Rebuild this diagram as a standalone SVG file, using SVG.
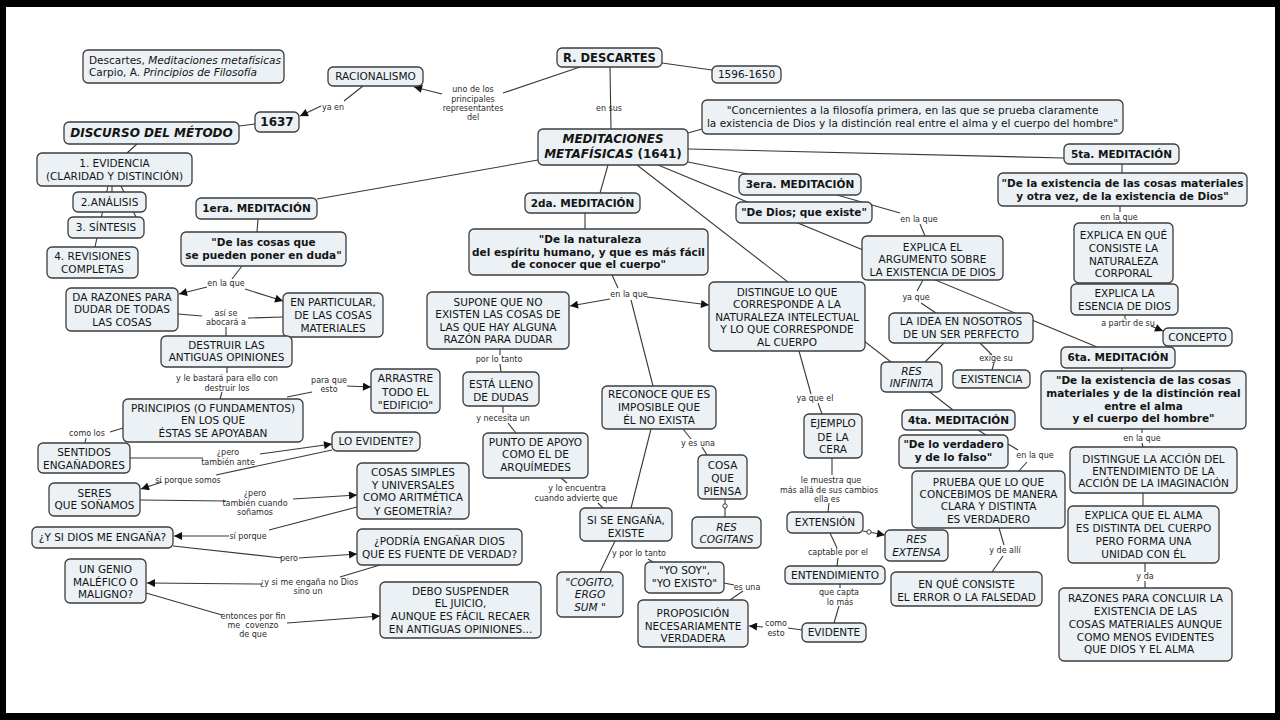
<svg xmlns="http://www.w3.org/2000/svg" width="1280" height="720" viewBox="0 0 1280 720">
<defs>
<marker id="ah" viewBox="0 0 10 10" refX="10" refY="5" markerWidth="9" markerHeight="8" markerUnits="userSpaceOnUse" orient="auto"><path d="M0,0 L10,5 L0,10 z" fill="#111"/></marker>
</defs>
<style>
.n rect{fill:#ebf1f4;stroke:#3c3c3c;stroke-width:1.3}
text{font-family:"DejaVu Sans",Verdana,sans-serif;fill:#141414}
.t{font-size:10.5px;text-anchor:middle}
.s{font-size:10.5px;text-anchor:start}
.b{font-weight:bold}
.i{font-style:italic}
.l{font-size:8px;fill:#2a2a2a;text-anchor:middle}
.c path{stroke:#383838;stroke-width:1.1;fill:none}
.c path.a{marker-end:url(#ah)}
.c circle{fill:#fff;stroke:#383838;stroke-width:1}
</style>
<rect width="1280" height="720" fill="#000"/>
<rect x="6" y="7" width="1269" height="706" fill="#fff"/>

<g id="connectors" class="c">
<path d="M580,67 L503,93"/>
<path class="a" d="M442,94 L414,87"/>
<path d="M363,86 L344,101"/>
<path class="a" d="M321,106 L300,116"/>
<path d="M255,124 L239,126"/>
<path d="M137,144 L127,153"/>
<path d="M108,186 L95,247"/>
<path d="M121,186 L136,217"/>
<path d="M112,186 L112,192"/>
<path d="M610,67 L611,129"/>
<path d="M662,63 L712,70"/>
<path d="M688,133 L702,129"/>
<path d="M688,149 L1064,158"/>
<path d="M538,160 L317,199"/>
<path d="M608,165 L600,193"/>
<path d="M688,162 L748,174"/>
<path d="M658,165 L1097,347"/>
<path d="M637,165 L953,410"/>
<path d="M585,213 L585,229"/>
<path d="M258,219 L257,232"/>
<path d="M242,266 L232,279"/>
<path class="a" d="M207,287 L179,294"/>
<path class="a" d="M245,289 L283,301"/>
<path d="M178,314 L202,316"/>
<path d="M248,318 L283,317"/>
<path d="M226,327 L226,336"/>
<path d="M227,367 L227,373"/>
<path d="M222,392 L220,399"/>
<path d="M287,397 L312,392"/>
<path class="a" d="M347,386 L371,387"/>
<path d="M123,428 L110,432"/>
<path d="M86,438 L85,443"/>
<path d="M130,458 L203,458"/>
<path class="a" d="M260,454 L332,444"/>
<path d="M332,450 L216,475"/>
<path class="a" d="M162,482 L141,489"/>
<path d="M140,500 L226,501"/>
<path class="a" d="M293,499 L357,495"/>
<path d="M357,507 L269,530"/>
<path class="a" d="M229,536 L174,536"/>
<path d="M173,546 L282,558"/>
<path class="a" d="M299,558 L357,554"/>
<path d="M380,565 L340,577"/>
<path class="a" d="M262,584 L147,583"/>
<path d="M146,593 L222,615"/>
<path class="a" d="M287,623 L380,616"/>
<path d="M612,275 L618,288"/>
<path class="a" d="M610,299 L570,306"/>
<path class="a" d="M647,297 L709,305"/>
<path d="M631,300 L653,386"/>
<path d="M500,349 L500,355"/>
<path d="M500,364 L501,372"/>
<path d="M503,406 L503,413"/>
<path d="M508,423 L516,433"/>
<path d="M561,478 L567,483"/>
<path d="M598,503 L603,508"/>
<path d="M651,429 L631,508"/>
<path d="M683,429 L691,439"/>
<path d="M702,447 L707,455"/>
<path d="M725,499 L725,517"/>
<path d="M615,541 L600,572"/>
<path d="M648,559 L653,562"/>
<path d="M724,583 L734,585"/>
<path d="M743,591 L730,600"/>
<path d="M802,630 L788,628"/>
<path class="a" d="M763,627 L749,626"/>
<path d="M799,351 L811,394"/>
<path d="M818,403 L822,414"/>
<path d="M832,458 L832,475"/>
<path d="M829,503 L828,512"/>
<path d="M830,533 L837,548"/>
<path d="M838,558 L837,566"/>
<path d="M840,584 L840,588"/>
<path d="M839,606 L834,623"/>
<path class="a" d="M863,531 L885,535"/>
<path d="M837,195 L900,213"/>
<path d="M920,224 L925,236"/>
<path d="M923,280 L917,291"/>
<path d="M921,303 L936,313"/>
<path d="M944,343 L925,362"/>
<path d="M980,343 L992,355"/>
<path d="M994,363 L992,370"/>
<path d="M978,430 L986,435"/>
<path d="M1008,444 L1018,450"/>
<path d="M1027,462 L1018,472"/>
<path d="M999,528 L1004,545"/>
<path d="M1003,556 L992,572"/>
<path d="M1122,164 L1122,173"/>
<path d="M1120,206 L1120,212"/>
<path d="M1120,221 L1120,223"/>
<path d="M1125,315 L1125,319"/>
<path class="a" d="M1151,326 L1163,331"/>
<path d="M1122,368 L1122,371"/>
<path d="M1142,429 L1142,433"/>
<path d="M1142,443 L1143,447"/>
<path d="M1143,493 L1143,506"/>
<path d="M1145,563 L1145,572"/>
<path d="M1145,581 L1145,588"/>
<circle cx="725" cy="506" r="2.2"/>
<circle cx="869" cy="532" r="2.2"/>
</g>

<g id="link-labels">
<text class="l"><tspan x="473" y="92.3">uno de los</tspan><tspan x="473" y="101.7">principales</tspan><tspan x="473" y="111">representantes</tspan><tspan x="473" y="120.3">del</tspan></text>
<text class="l" x="333" y="109.7">ya en</text>
<text class="l" x="609" y="111">en sus</text>
<text class="l" x="226" y="286.3">en la que</text>
<text class="l"><tspan x="226" y="315.7">así se</tspan><tspan x="226" y="325.3">abocará a</tspan></text>
<text class="l"><tspan x="227" y="381.3">y le bastará para ello con</tspan><tspan x="227" y="390.7">destruir los</tspan></text>
<text class="l"><tspan x="329" y="383">para que</tspan><tspan x="329" y="392">esto</tspan></text>
<text class="l" x="87" y="436.3">como los</text>
<text class="l"><tspan x="228" y="455.3">¿pero</tspan><tspan x="228" y="464.7">también ante</tspan></text>
<text class="l" x="188" y="483">sí porque somos</text>
<text class="l"><tspan x="255" y="496.3">¿pero</tspan><tspan x="255" y="505.7">también cuando</tspan><tspan x="255" y="515.3">soñamos</tspan></text>
<text class="l" x="248" y="539">sí porque</text>
<text class="l" x="289" y="561.3">pero</text>
<text class="l"><tspan x="309" y="584.7">¿y si me engaña no Dios</tspan><tspan x="308" y="594">sino un</tspan></text>
<text class="l" style="white-space:pre"><tspan x="253" y="618.7">entonces por fin</tspan><tspan x="253" y="628">me  covenzo</tspan><tspan x="253" y="637.3">de que</tspan></text>
<text class="l" x="629" y="297">en la que</text>
<text class="l" x="499" y="362.3">por lo tanto</text>
<text class="l" x="503" y="421.3">y necesita un</text>
<text class="l"><tspan x="577" y="491.3">y lo encuentra</tspan><tspan x="576" y="501.3">cuando advierte que</tspan></text>
<text class="l" x="698" y="445.7">y es una</text>
<text class="l" x="639" y="556.3">y por lo tanto</text>
<text class="l" x="747" y="589.7">es una</text>
<text class="l"><tspan x="776" y="625.7">como</tspan><tspan x="776" y="636.3">esto</tspan></text>
<text class="l" x="815" y="401.3">ya que el</text>
<text class="l"><tspan x="831" y="483">le muestra que</tspan><tspan x="829" y="493">más allá de sus cambios</tspan><tspan x="827" y="502">ella es</tspan></text>
<text class="l" x="838" y="554.7">captable por el</text>
<text class="l"><tspan x="839" y="595.3">que capta</tspan><tspan x="840" y="604.7">lo más</tspan></text>
<text class="l" x="919" y="222.3">en la que</text>
<text class="l" x="916" y="300.3">ya que</text>
<text class="l" x="996" y="361.3">exige su</text>
<text class="l" x="1035" y="458">en la que</text>
<text class="l" x="1005" y="553">y de allí</text>
<text class="l" x="1119" y="220.3">en la que</text>
<text class="l" x="1128" y="326.3">a partir de su</text>
<text class="l" x="1142" y="440.7">en la que</text>
<text class="l" x="1145" y="579">y da</text>
</g>

<g id="n-ref" class="n"><rect x="83" y="50" width="201" height="33" rx="5"/><text class="s" x="89" y="63.5">Descartes, <tspan class="i">Meditaciones metafísicas</tspan></text><text class="s" x="89" y="75.5">Carpio, A. <tspan class="i">Principios de Filosofía</tspan></text></g>
<g id="n-racionalismo" class="n"><rect x="328" y="67" width="95" height="19" rx="5"/><text class="t" x="375.5" y="80.3">RACIONALISMO</text></g>
<g id="n-descartes" class="n"><rect x="557" y="48" width="105" height="19" rx="5"/><text class="t b" style="font-size:11.5px" x="609.5" y="61.8">R. DESCARTES</text></g>
<g id="n-fechas" class="n"><rect x="712" y="66" width="69" height="17" rx="5"/><text class="t" x="746.5" y="78.3">1596-1650</text></g>
<g id="n-1637" class="n"><rect x="255" y="112" width="44" height="20" rx="5"/><text class="t b" style="font-size:12px" x="277" y="126.3">1637</text></g>
<g id="n-discurso" class="n"><rect x="64" y="122" width="175" height="22" rx="5"/><text class="t b i" style="font-size:12px" x="151.5" y="137.3">DISCURSO DEL MÉTODO</text></g>
<g id="n-evidencia" class="n"><rect x="37" y="153" width="155" height="33" rx="5"/><text class="t"><tspan x="114.5" y="166.9">1. EVIDENCIA</tspan><tspan x="114.5" y="179.7">(CLARIDAD Y DISTINCIÓN)</tspan></text></g>
<g id="n-analisis" class="n"><rect x="73" y="192" width="73" height="20" rx="5"/><text class="t" x="109.5" y="205.8">2.ANÁLISIS</text></g>
<g id="n-sintesis" class="n"><rect x="68" y="217" width="76" height="21" rx="5"/><text class="t" x="106" y="231.3">3. SÍNTESIS</text></g>
<g id="n-revisiones" class="n"><rect x="47" y="247" width="91" height="31" rx="5"/><text class="t"><tspan x="92.5" y="259.9">4. REVISIONES</tspan><tspan x="92.5" y="272.7">COMPLETAS</tspan></text></g>
<g id="n-med1" class="n"><rect x="196" y="198" width="121" height="21" rx="5"/><text class="t b" x="256.5" y="212.3">1era. MEDITACIÓN</text></g>
<g id="n-med1-titulo" class="n"><rect x="181" y="232" width="165" height="34" rx="5"/><text class="t b"><tspan x="263.5" y="246.4">"De las cosas que</tspan><tspan x="263.5" y="259.2">se pueden poner en duda"</tspan></text></g>
<g id="n-meditaciones" class="n"><rect x="538" y="129" width="150" height="36" rx="5"/><text class="t b i" style="font-size:12px" x="613" y="142.5">MEDITACIONES</text><text class="t b" style="font-size:12px" x="613" y="157.5"><tspan class="i">METAFÍSICAS</tspan> (1641)</text></g>
<g id="n-concernientes" class="n"><rect x="702" y="100" width="421" height="34" rx="5"/><text class="t"><tspan x="912.5" y="113.7">"Concernientes a la filosofía primera, en las que se prueba claramente</tspan><tspan x="912.5" y="127">la existencia de Dios y la distinción real entre el alma y el cuerpo del hombre"</tspan></text></g>
<g id="n-med5" class="n"><rect x="1064" y="144" width="115" height="20" rx="5"/><text class="t b" x="1121.5" y="157.8">5ta. MEDITACIÓN</text></g>
<g id="n-med5-titulo" class="n"><rect x="998" y="173" width="249" height="33" rx="5"/><text class="t b"><tspan x="1122.5" y="186.9">"De la existencia de las cosas materiales</tspan><tspan x="1122.5" y="199.7">y otra vez, de la existencia de Dios"</tspan></text></g>
<g id="n-naturaleza-corporal" class="n"><rect x="1074" y="223" width="99" height="60" rx="5"/><text class="t"><tspan x="1123.5" y="239.3">EXPLICA EN QUÉ</tspan><tspan x="1123.5" y="252">CONSISTE LA</tspan><tspan x="1123.5" y="264.7">NATURALEZA</tspan><tspan x="1123.5" y="277.4">CORPORAL</tspan></text></g>
<g id="n-esencia" class="n"><rect x="1071" y="284" width="107" height="31" rx="5"/><text class="t"><tspan x="1124.5" y="297.1">EXPLICA LA</tspan><tspan x="1124.5" y="309.5">ESENCIA DE DIOS</tspan></text></g>
<g id="n-concepto" class="n"><rect x="1163" y="328" width="69" height="18" rx="5"/><text class="t" x="1197.5" y="340.8">CONCEPTO</text></g>
<g id="n-med6" class="n"><rect x="1061" y="347" width="114" height="21" rx="5"/><text class="t b" x="1118" y="361.3">6ta. MEDITACIÓN</text></g>
<g id="n-med6-titulo" class="n"><rect x="1041" y="371" width="205" height="58" rx="5"/><text class="t b"><tspan x="1143.5" y="383.8">"De la existencia de las cosas</tspan><tspan x="1143.5" y="397.1">materiales y de la distinción real</tspan><tspan x="1143.5" y="409.5">entre el alma</tspan><tspan x="1143.5" y="422.1">y el cuerpo del hombre"</tspan></text></g>
<g id="n-accion" class="n"><rect x="1070" y="447" width="167" height="46" rx="5"/><text class="t"><tspan x="1153.5" y="462.8">DISTINGUE LA ACCIÓN DEL</tspan><tspan x="1153.5" y="474.8">ENTENDIMIENTO DE LA</tspan><tspan x="1153.5" y="487.1">ACCIÓN DE LA IMAGINACIÓN</tspan></text></g>
<g id="n-alma" class="n"><rect x="1068" y="506" width="151" height="57" rx="5"/><text class="t"><tspan x="1143.5" y="518.8">EXPLICA QUE EL ALMA</tspan><tspan x="1143.5" y="532.1">ES DISTINTA DEL CUERPO</tspan><tspan x="1143.5" y="544.8">PERO FORMA UNA</tspan><tspan x="1143.5" y="558.1">UNIDAD CON ÉL</tspan></text></g>
<g id="n-razones" class="n"><rect x="1059" y="588" width="173" height="73" rx="5"/><text class="t"><tspan x="1145.5" y="602.1">RAZONES PARA CONCLUIR LA</tspan><tspan x="1145.5" y="614.8">EXISTENCIA DE LAS</tspan><tspan x="1145.5" y="627.8">COSAS MATERIALES AUNQUE</tspan><tspan x="1145.5" y="640.5">COMO MENOS EVIDENTES</tspan><tspan x="1139" y="653.1">QUE DIOS Y EL ALMA</tspan></text></g>
<g id="n-med3" class="n"><rect x="739" y="174" width="122" height="21" rx="5"/><text class="t b" x="800" y="188.3">3era. MEDITACIÓN</text></g>
<g id="n-med3-titulo" class="n"><rect x="736" y="202" width="136" height="21" rx="5"/><text class="t b" x="804" y="216.3">"De Dios; que existe"</text></g>
<g id="n-argumento" class="n"><rect x="862" y="236" width="141" height="44" rx="5"/><text class="t"><tspan x="932.5" y="250.5">EXPLICA EL</tspan><tspan x="932.5" y="263.1">ARGUMENTO SOBRE</tspan><tspan x="932.5" y="276.1">LA EXISTENCIA DE DIOS</tspan></text></g>
<g id="n-idea" class="n"><rect x="889" y="313" width="144" height="30" rx="5"/><text class="t"><tspan x="961" y="324.8">LA IDEA EN NOSOTROS</tspan><tspan x="961" y="337.8">DE UN SER PERFECTO</tspan></text></g>
<g id="n-res-infinita" class="n"><rect x="881" y="362" width="61" height="30" rx="5"/><text class="t i"><tspan x="911.5" y="374.5">RES</tspan><tspan x="911.5" y="387.1">INFINITA</tspan></text></g>
<g id="n-existencia" class="n"><rect x="953" y="370" width="77" height="18" rx="5"/><text class="t" x="991.5" y="382.8">EXISTENCIA</text></g>
<g id="n-med4" class="n"><rect x="902" y="410" width="113" height="20" rx="5"/><text class="t b" x="958.5" y="423.8">4ta. MEDITACIÓN</text></g>
<g id="n-med4-titulo" class="n"><rect x="899" y="435" width="109" height="33" rx="5"/><text class="t b"><tspan x="953.5" y="448.1">"De lo verdadero</tspan><tspan x="953.5" y="460.5">y de lo falso"</tspan></text></g>
<g id="n-prueba" class="n"><rect x="912" y="471" width="153" height="57" rx="5"/><text class="t"><tspan x="988.5" y="485.5">PRUEBA QUE LO QUE</tspan><tspan x="988.5" y="497.8">CONCEBIMOS DE MANERA</tspan><tspan x="988.5" y="509.8">CLARA Y DISTINTA</tspan><tspan x="988.5" y="522.8">ES VERDADERO</tspan></text></g>
<g id="n-error" class="n"><rect x="891" y="572" width="151" height="34" rx="5"/><text class="t"><tspan x="966.5" y="588.1">EN QUÉ CONSISTE</tspan><tspan x="966.5" y="600.5">EL ERROR O LA FALSEDAD</tspan></text></g>
<g id="n-med2" class="n"><rect x="525" y="193" width="115" height="20" rx="5"/><text class="t b" x="582.5" y="206.8">2da. MEDITACIÓN</text></g>
<g id="n-med2-titulo" class="n"><rect x="469" y="229" width="239" height="46" rx="5"/><text class="t b"><tspan x="590" y="242.8">"De la naturaleza</tspan><tspan x="588.5" y="255.5">del espíritu humano, y que es más fácil</tspan><tspan x="588.5" y="268.1">de conocer que el cuerpo"</tspan></text></g>
<g id="n-supone" class="n"><rect x="427" y="292" width="142" height="57" rx="5"/><text class="t"><tspan x="498" y="305.6">SUPONE QUE NO</tspan><tspan x="498" y="318.1">EXISTEN LAS COSAS DE</tspan><tspan x="498" y="330.6">LAS QUE HAY ALGUNA</tspan><tspan x="498" y="343.1">RAZÓN PARA DUDAR</tspan></text></g>
<g id="n-distingue" class="n"><rect x="709" y="282" width="156" height="69" rx="5"/><text class="t"><tspan x="787" y="295.5">DISTINGUE LO QUE</tspan><tspan x="787" y="308">CORRESPONDE A LA</tspan><tspan x="787" y="320.5">NATURALEZA INTELECTUAL</tspan><tspan x="787" y="333">Y LO QUE CORRESPONDE</tspan><tspan x="787" y="345.5">AL CUERPO</tspan></text></g>
<g id="n-lleno" class="n"><rect x="463" y="372" width="76" height="34" rx="5"/><text class="t"><tspan x="501" y="387.8">ESTÁ LLENO</tspan><tspan x="501" y="400.5">DE DUDAS</tspan></text></g>
<g id="n-punto" class="n"><rect x="483" y="433" width="105" height="45" rx="5"/><text class="t"><tspan x="535.5" y="445.5">PUNTO DE APOYO</tspan><tspan x="535.5" y="458.1">COMO EL DE</tspan><tspan x="535.5" y="471.1">ARQUÍMEDES</tspan></text></g>
<g id="n-reconoce" class="n"><rect x="602" y="386" width="114" height="43" rx="5"/><text class="t"><tspan x="659" y="397.8">RECONOCE QUE ES</tspan><tspan x="659" y="410.5">IMPOSIBLE QUE</tspan><tspan x="659" y="423.8">ÉL NO EXISTA</tspan></text></g>
<g id="n-cosa" class="n"><rect x="698" y="455" width="49" height="44" rx="5"/><text class="t"><tspan x="722.5" y="468.8">COSA</tspan><tspan x="722.5" y="482.1">QUE</tspan><tspan x="722.5" y="494.5">PIENSA</tspan></text></g>
<g id="n-res-cogitans" class="n"><rect x="692" y="517" width="69" height="31" rx="5"/><text class="t i"><tspan x="726.5" y="530.5">RES</tspan><tspan x="726.5" y="542.8">COGITANS</tspan></text></g>
<g id="n-engana" class="n"><rect x="580" y="508" width="92" height="33" rx="5"/><text class="t"><tspan x="626" y="523.8">SI SE ENGAÑA,</tspan><tspan x="626" y="536.5">EXISTE</tspan></text></g>
<g id="n-cogito" class="n"><rect x="557" y="572" width="66" height="45" rx="5"/><text class="t i"><tspan x="590" y="586.1">"COGITO,</tspan><tspan x="590" y="598.1">ERGO</tspan><tspan x="590" y="610.5">SUM "</tspan></text></g>
<g id="n-yosoy" class="n"><rect x="645" y="562" width="79" height="31" rx="5"/><text class="t"><tspan x="684.5" y="573.8">"YO SOY",</tspan><tspan x="684.5" y="587.1">"YO EXISTO"</tspan></text></g>
<g id="n-proposicion" class="n"><rect x="638" y="600" width="110" height="47" rx="5"/><text class="t"><tspan x="693" y="617.1">PROPOSICIÓN</tspan><tspan x="693" y="629.5">NECESARIAMENTE</tspan><tspan x="693" y="642.1">VERDADERA</tspan></text></g>
<g id="n-cera" class="n"><rect x="804" y="414" width="58" height="44" rx="5"/><text class="t"><tspan x="833" y="427.1">EJEMPLO</tspan><tspan x="833" y="440.5">DE LA</tspan><tspan x="833" y="453.1">CERA</tspan></text></g>
<g id="n-extension" class="n"><rect x="787" y="512" width="76" height="21" rx="5"/><text class="t" x="825" y="526.3">EXTENSIÓN</text></g>
<g id="n-res-extensa" class="n"><rect x="885" y="530" width="63" height="31" rx="5"/><text class="t i"><tspan x="916.5" y="543.1">RES</tspan><tspan x="916.5" y="555.5">EXTENSA</tspan></text></g>
<g id="n-entendimiento" class="n"><rect x="785" y="566" width="100" height="18" rx="5"/><text class="t" x="835" y="578.8">ENTENDIMIENTO</text></g>
<g id="n-evidente" class="n"><rect x="802" y="623" width="64" height="19" rx="5"/><text class="t" x="834" y="636.3">EVIDENTE</text></g>
<g id="n-da-razones" class="n"><rect x="66" y="288" width="112" height="43" rx="5"/><text class="t"><tspan x="122" y="300.5">DA RAZONES PARA</tspan><tspan x="122" y="313.1">DUDAR DE TODAS</tspan><tspan x="122" y="325.5">LAS COSAS</tspan></text></g>
<g id="n-particular" class="n"><rect x="283" y="293" width="100" height="44" rx="5"/><text class="t"><tspan x="333" y="305.5">EN PARTICULAR,</tspan><tspan x="333" y="318.8">DE LAS COSAS</tspan><tspan x="333" y="332.1">MATERIALES</tspan></text></g>
<g id="n-destruir" class="n"><rect x="161" y="336" width="131" height="31" rx="5"/><text class="t"><tspan x="226.5" y="348.8">DESTRUIR LAS</tspan><tspan x="226.5" y="361.1">ANTIGUAS OPINIONES</tspan></text></g>
<g id="n-principios" class="n"><rect x="123" y="399" width="180" height="43" rx="5"/><text class="t"><tspan x="213" y="412.1">PRINCIPIOS (O FUNDAMENTOS)</tspan><tspan x="213" y="423.8">EN LOS QUE</tspan><tspan x="213" y="436.5">ÉSTAS SE APOYABAN</tspan></text></g>
<g id="n-arrastre" class="n"><rect x="371" y="369" width="69" height="44" rx="5"/><text class="t"><tspan x="405.5" y="382.1">ARRASTRE</tspan><tspan x="405.5" y="395.5">TODO EL</tspan><tspan x="405.5" y="408.8">"EDIFICIO"</tspan></text></g>
<g id="n-sentidos" class="n"><rect x="38" y="443" width="92" height="30" rx="5"/><text class="t"><tspan x="84" y="456.1">SENTIDOS</tspan><tspan x="84" y="468.8">ENGAÑADORES</tspan></text></g>
<g id="n-lo-evidente" class="n"><rect x="332" y="432" width="88" height="19" rx="5"/><text class="t" x="376" y="445.3">LO EVIDENTE?</text></g>
<g id="n-seres" class="n"><rect x="49" y="483" width="91" height="33" rx="5"/><text class="t"><tspan x="94.5" y="496.5">SERES</tspan><tspan x="94.5" y="508.8">QUE SOÑAMOS</tspan></text></g>
<g id="n-cosas-simples" class="n"><rect x="357" y="463" width="112" height="56" rx="5"/><text class="t"><tspan x="413" y="475.5">COSAS SIMPLES</tspan><tspan x="413" y="488.8">Y UNIVERSALES</tspan><tspan x="413" y="501.1">COMO ARITMÉTICA</tspan><tspan x="413" y="514.5">Y GEOMETRÍA?</tspan></text></g>
<g id="n-dios-engana" class="n"><rect x="32" y="527" width="141" height="21" rx="5"/><text class="t" x="102.5" y="541.3">¿Y SI DIOS ME ENGAÑA?</text></g>
<g id="n-podria" class="n"><rect x="357" y="529" width="165" height="36" rx="5"/><text class="t"><tspan x="439.5" y="544.8">¿PODRÍA ENGAÑAR DIOS</tspan><tspan x="439.5" y="558.1">QUE ES FUENTE DE VERDAD?</tspan></text></g>
<g id="n-genio" class="n"><rect x="65" y="559" width="81" height="44" rx="5"/><text class="t"><tspan x="105.5" y="572.8">UN GENIO</tspan><tspan x="105.5" y="585.5">MALÉFICO O</tspan><tspan x="105.5" y="598.1">MALIGNO?</tspan></text></g>
<g id="n-suspender" class="n"><rect x="380" y="582" width="161" height="56" rx="5"/><text class="t"><tspan x="460.5" y="594.5">DEBO SUSPENDER</tspan><tspan x="460.5" y="607.1">EL JUICIO,</tspan><tspan x="460.5" y="619.8">AUNQUE ES FÁCIL RECAER</tspan><tspan x="460.5" y="632.8">EN ANTIGUAS OPINIONES...</tspan></text></g>
</svg>
